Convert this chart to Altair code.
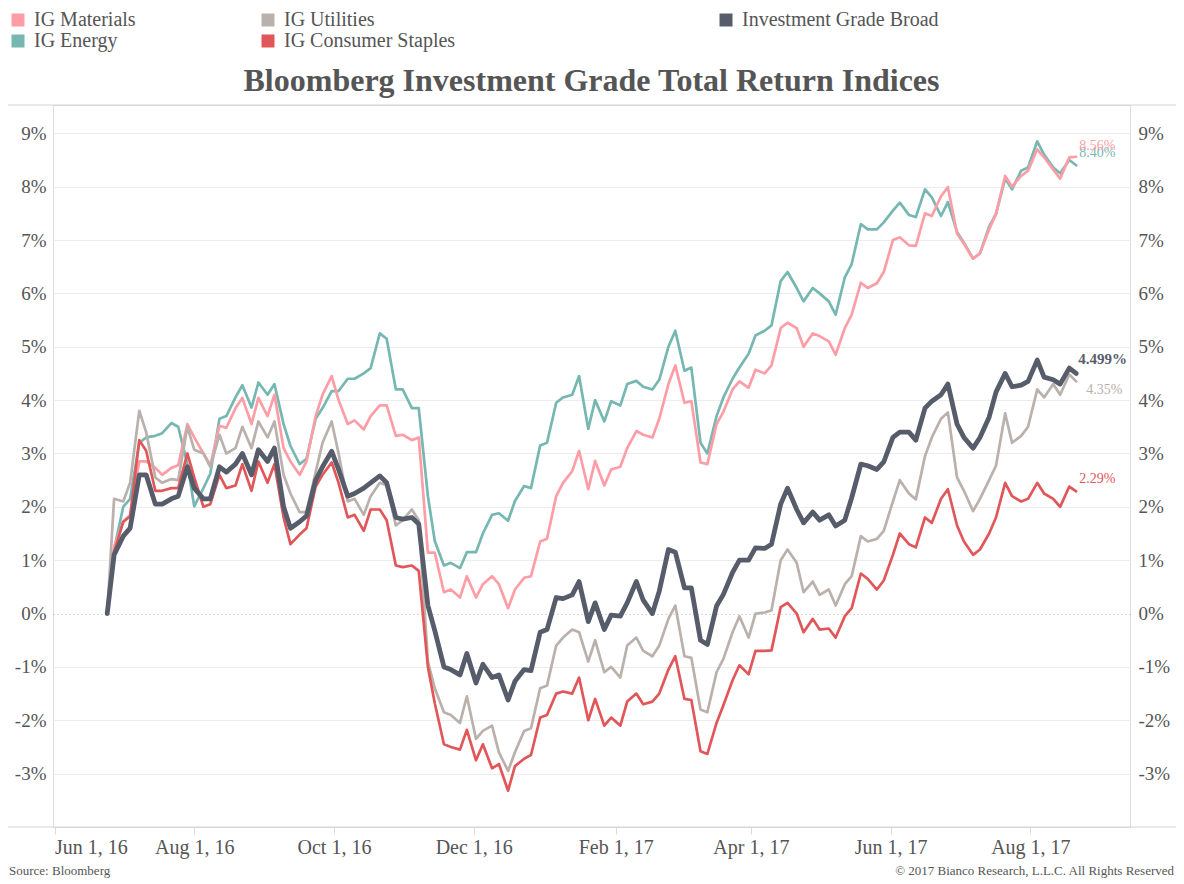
import altair as alt
import pandas as pd

# ---------------- data ----------------
dates = [
    "2016-06-24", "2016-06-27", "2016-07-01", "2016-07-04", "2016-07-08", "2016-07-11", "2016-07-15", "2016-07-18", "2016-07-22", "2016-07-25",
    "2016-07-29", "2016-08-01", "2016-08-05", "2016-08-08", "2016-08-12", "2016-08-15", "2016-08-19", "2016-08-22", "2016-08-26", "2016-08-29",
    "2016-09-02", "2016-09-05", "2016-09-09", "2016-09-12", "2016-09-16", "2016-09-19", "2016-09-23", "2016-09-26", "2016-09-30", "2016-10-03",
    "2016-10-07", "2016-10-10", "2016-10-14", "2016-10-17", "2016-10-21", "2016-10-24", "2016-10-28", "2016-10-31", "2016-11-04", "2016-11-07",
    "2016-11-11", "2016-11-14", "2016-11-18", "2016-11-21", "2016-11-25", "2016-11-28", "2016-12-02", "2016-12-05", "2016-12-09", "2016-12-12",
    "2016-12-16", "2016-12-19", "2016-12-23", "2016-12-26", "2016-12-30", "2017-01-02", "2017-01-06", "2017-01-09", "2017-01-13", "2017-01-16",
    "2017-01-20", "2017-01-23", "2017-01-27", "2017-01-30", "2017-02-03", "2017-02-06", "2017-02-10", "2017-02-13", "2017-02-17", "2017-02-20",
    "2017-02-24", "2017-02-27", "2017-03-03", "2017-03-06", "2017-03-10", "2017-03-13", "2017-03-17", "2017-03-20", "2017-03-24", "2017-03-27",
    "2017-03-31", "2017-04-03", "2017-04-07", "2017-04-10", "2017-04-14", "2017-04-17", "2017-04-21", "2017-04-24", "2017-04-28", "2017-05-01",
    "2017-05-05", "2017-05-08", "2017-05-12", "2017-05-15", "2017-05-19", "2017-05-22", "2017-05-26", "2017-05-29", "2017-06-02", "2017-06-05",
    "2017-06-09", "2017-06-12", "2017-06-16", "2017-06-19", "2017-06-23", "2017-06-26", "2017-06-30", "2017-07-03", "2017-07-07", "2017-07-10",
    "2017-07-14", "2017-07-17", "2017-07-21", "2017-07-24", "2017-07-28", "2017-07-31", "2017-08-04", "2017-08-07", "2017-08-11", "2017-08-14",
    "2017-08-18", "2017-08-21",
]

ig_energy = [
    0.00, 1.20, 2.00, 2.15, 3.20, 3.30, 3.33, 3.38, 3.57, 3.50,
    2.80, 2.01, 2.35, 2.62, 3.65, 3.70, 4.05, 4.28, 3.86, 4.33,
    4.10, 4.30, 3.55, 3.14, 2.80, 2.90, 3.65, 3.85, 4.17, 4.17,
    4.40, 4.40, 4.50, 4.60, 5.25, 5.15, 4.20, 4.20, 3.85, 3.85,
    2.20, 1.36, 0.90, 0.95, 0.85, 1.15, 1.15, 1.50, 1.85, 1.88,
    1.74, 2.11, 2.39, 2.35, 3.15, 3.20, 3.95, 4.05, 4.10, 4.45,
    3.46, 4.00, 3.60, 3.98, 3.90, 4.30, 4.36, 4.25, 4.20, 4.38,
    5.00, 5.30, 4.55, 4.61, 3.20, 3.00, 3.70, 4.05, 4.40, 4.61,
    4.87, 5.21, 5.30, 5.40, 6.23, 6.40, 6.10, 5.85, 6.10, 6.00,
    5.85, 5.60, 6.30, 6.55, 7.30, 7.20, 7.20, 7.33, 7.55, 7.70,
    7.47, 7.43, 7.95, 7.80, 7.45, 7.71, 7.15, 6.95, 6.65, 6.75,
    7.25, 7.49, 8.15, 7.95, 8.30, 8.36, 8.85, 8.60, 8.36, 8.25,
    8.50, 8.40,
]

ig_materials = [
    0.00, 1.25, 1.72, 1.85, 2.85, 2.85, 2.73, 2.60, 2.73, 2.78,
    3.55, 3.30, 3.00, 2.78, 3.52, 3.48, 3.85, 4.04, 3.55, 4.04,
    3.70, 4.10, 3.10, 2.85, 2.60, 2.85, 3.70, 4.10, 4.45, 4.00,
    3.55, 3.62, 3.45, 3.70, 3.90, 3.90, 3.33, 3.35, 3.25, 3.30,
    1.14, 1.14, 0.40, 0.45, 0.30, 0.70, 0.30, 0.55, 0.70, 0.55,
    0.10, 0.45, 0.67, 0.70, 1.35, 1.40, 2.20, 2.45, 2.67, 3.05,
    2.33, 2.86, 2.40, 2.70, 2.75, 3.10, 3.42, 3.35, 3.30, 3.65,
    4.30, 4.65, 3.95, 3.98, 2.83, 2.80, 3.55, 3.78, 4.20, 4.35,
    4.23, 4.57, 4.50, 4.65, 5.35, 5.45, 5.35, 5.00, 5.25, 5.20,
    5.10, 4.85, 5.35, 5.60, 6.20, 6.10, 6.19, 6.40, 7.00, 7.05,
    6.90, 6.89, 7.50, 7.45, 7.82, 7.99, 7.12, 6.93, 6.65, 6.75,
    7.20, 7.49, 8.20, 8.00, 8.20, 8.30, 8.70, 8.55, 8.32, 8.15,
    8.55, 8.56,
]

ig_utilities = [
    0.00, 2.15, 2.10, 2.45, 3.80, 3.40, 2.55, 2.45, 2.52, 2.50,
    3.50, 3.07, 3.00, 2.75, 3.35, 3.00, 3.10, 3.50, 3.10, 3.60,
    3.30, 3.60, 2.60, 2.25, 1.90, 1.90, 2.65, 3.20, 3.60, 3.00,
    2.10, 2.15, 1.85, 2.20, 2.45, 2.40, 1.65, 1.75, 1.95, 1.75,
    -0.90, -1.40, -1.85, -1.90, -2.05, -1.55, -2.35, -2.20, -2.10, -2.60,
    -2.95, -2.60, -2.20, -2.15, -1.40, -1.35, -0.60, -0.45, -0.30, -0.35,
    -0.90, -0.50, -1.10, -1.00, -1.20, -0.60, -0.45, -0.70, -0.80, -0.60,
    -0.10, 0.15, -0.80, -0.83, -1.80, -1.85, -1.10, -0.85, -0.35, -0.05,
    -0.45, 0.00, 0.02, 0.06, 1.00, 1.20, 0.95, 0.40, 0.60, 0.35,
    0.45, 0.15, 0.55, 0.70, 1.45, 1.35, 1.40, 1.55, 2.10, 2.50,
    2.25, 2.14, 2.95, 3.30, 3.65, 3.77, 2.55, 2.30, 1.92, 2.15,
    2.50, 2.77, 3.75, 3.20, 3.33, 3.50, 4.20, 4.05, 4.30, 4.10,
    4.48, 4.35,
]

ig_consumer_staples = [
    0.00, 1.15, 1.72, 1.82, 3.25, 3.05, 2.30, 2.30, 2.35, 2.35,
    3.00, 2.55, 2.00, 2.05, 2.60, 2.35, 2.40, 2.80, 2.30, 2.85,
    2.45, 2.80, 1.80, 1.30, 1.48, 1.60, 2.38, 2.60, 2.83, 2.45,
    1.80, 1.85, 1.55, 1.95, 1.95, 1.75, 0.90, 0.87, 0.90, 0.80,
    -1.00, -1.68, -2.45, -2.50, -2.55, -2.18, -2.75, -2.45, -2.90, -2.82,
    -3.32, -2.86, -2.72, -2.65, -1.95, -1.90, -1.50, -1.46, -1.50, -1.20,
    -2.00, -1.60, -2.10, -1.95, -2.10, -1.65, -1.50, -1.70, -1.65, -1.50,
    -1.05, -0.80, -1.60, -1.62, -2.58, -2.63, -2.05, -1.72, -1.25, -0.97,
    -1.14, -0.70, -0.70, -0.69, 0.12, 0.20, 0.00, -0.35, -0.10, -0.30,
    -0.28, -0.45, -0.05, 0.10, 0.75, 0.65, 0.45, 0.62, 1.10, 1.50,
    1.30, 1.24, 1.80, 1.70, 2.15, 2.33, 1.65, 1.35, 1.10, 1.20,
    1.50, 1.80, 2.45, 2.20, 2.10, 2.15, 2.45, 2.25, 2.15, 2.00,
    2.38, 2.29,
]

ig_broad = [
    0.00, 1.10, 1.45, 1.60, 2.60, 2.60, 2.05, 2.05, 2.15, 2.20,
    2.75, 2.35, 2.15, 2.15, 2.75, 2.65, 2.80, 3.00, 2.60, 3.07,
    2.85, 3.10, 2.00, 1.60, 1.72, 1.83, 2.50, 2.75, 3.04, 2.70,
    2.20, 2.25, 2.35, 2.45, 2.58, 2.45, 1.80, 1.77, 1.80, 1.68,
    0.15, -0.32, -1.00, -1.05, -1.15, -0.75, -1.30, -0.95, -1.20, -1.15,
    -1.62, -1.27, -1.05, -1.07, -0.35, -0.30, 0.30, 0.28, 0.35, 0.60,
    -0.15, 0.20, -0.30, -0.03, -0.05, 0.20, 0.60, 0.25, 0.00, 0.42,
    1.20, 1.15, 0.48, 0.48, -0.50, -0.58, 0.14, 0.36, 0.77, 1.00,
    1.00, 1.23, 1.22, 1.30, 2.05, 2.35, 1.95, 1.70, 1.90, 1.75,
    1.85, 1.64, 1.75, 2.17, 2.80, 2.77, 2.70, 2.84, 3.30, 3.40,
    3.40, 3.25, 3.85, 3.98, 4.10, 4.30, 3.55, 3.30, 3.10, 3.30,
    3.68, 4.15, 4.50, 4.25, 4.28, 4.35, 4.75, 4.43, 4.38, 4.30,
    4.60, 4.50,
]

# drawing order (bottom -> top)
series_names = ["IG Energy", "IG Materials", "IG Utilities", "IG Consumer Staples", "Investment Grade Broad"]
series_values = [ig_energy, ig_materials, ig_utilities, ig_consumer_staples, ig_broad]
series_colors = ["#76b7b2", "#ff9da7", "#bab0ac", "#e15759", "#565c6a"]
end_labels = ["8.40%", "8.56%", "4.35%", "2.29%", "4.499%"]

# legend entries, filled column by column (two rows)
legend_names = ["IG Materials", "IG Energy", "IG Utilities", "IG Consumer Staples"]
legend_colors = ["#ff9da7", "#76b7b2", "#bab0ac", "#e15759"]
broad_name = "Investment Grade Broad"
broad_color = "#565c6a"

y_ticks = [-3, -2, -1, 0, 1, 2, 3, 4, 5, 6, 7, 8, 9]
x_ticks = ["2016-06-01", "2016-08-01", "2016-10-01", "2016-12-01",
           "2017-02-01", "2017-04-01", "2017-06-01", "2017-08-01"]

title_text = "Bloomberg Investment Grade Total Return Indices"
source_text = "Source: Bloomberg"
copyright_text = "\u00a9 2017 Bianco Research, L.L.C. All Rights Reserved"

for v in series_values:
    assert len(v) == len(dates)

# ---------------- styling ----------------
FONT = "Liberation Serif"
TXT = "#555555"
BORDER = "#d4d4d4"
W, H = 1077, 722

# label offsets relative to each series' last point
label_style = {
    "IG Energy": dict(dx=3, dy=-12, size=14, weight="normal"),
    "IG Materials": dict(dx=3, dy=-11, size=14, weight="normal"),
    "IG Utilities": dict(dx=10, dy=9, size=14, weight="normal"),
    "IG Consumer Staples": dict(dx=3, dy=-12, size=14, weight="normal"),
    "Investment Grade Broad": dict(dx=2, dy=-14, size=15, weight="bold"),
}

def dt(s, hours=0):
    t = pd.Timestamp(s)
    return alt.DateTime(year=t.year, month=t.month, date=t.day, hours=hours)

x_scale = alt.Scale(domain=[dt("2016-05-31", 8), dt("2017-09-13", 12)])
y_scale = alt.Scale(domain=[-4.0, 9.53], nice=False, zero=False)

x_axis = alt.Axis(
    values=[dt(s) for s in x_ticks], format="%b %-d, %y", labelFlush=5,
    grid=False, domain=False, ticks=True, tickColor="#dcdcdc", tickSize=7,
    labelPadding=3, labelFont=FONT, labelFontSize=20, labelColor=TXT,
    labelOverlap=False, title=None,
)
y_axis_left = alt.Axis(
    values=y_ticks, labelExpr="datum.value + '%'", orient="left",
    grid=True,
    gridColor={"condition": {"test": "datum.value === 0", "value": "#b0b0b0"}, "value": "#ececec"},
    gridDash={"condition": {"test": "datum.value === 0", "value": [1, 3]}, "value": []},
    domain=False, ticks=False, tickSize=0, labelPadding=7,
    labelFont=FONT, labelFontSize=19, labelColor=TXT, title=None,
)
y_axis_right = alt.Axis(
    values=y_ticks, labelExpr="datum.value + '%'", orient="right",
    grid=False, domain=False, ticks=False, tickSize=0, labelPadding=8,
    labelFont=FONT, labelFontSize=19, labelColor=TXT, title=None,
)

frames = []
for name, vals in zip(series_names, series_values):
    frames.append(pd.DataFrame({"date": pd.to_datetime(dates), "series": name, "value": vals}))
df = pd.concat(frames, ignore_index=True)

X = alt.X("date:T", scale=x_scale, axis=x_axis, title=None)

layers = []
for i, (name, color) in enumerate(zip(series_names, series_colors)):
    if i == 0:
        ax = y_axis_left
    elif name == broad_name:
        ax = y_axis_right
    else:
        ax = None
    width = 4.8 if name == broad_name else 2.7
    layers.append(
        alt.Chart(df[df.series == name]).mark_line(
            strokeWidth=width, strokeJoin="round", strokeCap="round", color=color
        ).encode(x=X, y=alt.Y("value:Q", scale=y_scale, axis=ax, title=None))
    )

# end-of-line value labels
for name, color, lab in zip(series_names, series_colors, end_labels):
    sub = df[df.series == name].tail(1).copy()
    sub["label"] = lab
    st = label_style[name]
    layers.append(
        alt.Chart(sub).mark_text(
            align="left", baseline="middle", dx=st["dx"], dy=st["dy"],
            font=FONT, fontSize=st["size"], fontWeight=st["weight"], color=color,
        ).encode(x=X, y=alt.Y("value:Q", scale=y_scale, axis=None, title=None), text="label:N")
    )

# legends (the legend layers draw no marks themselves)
legend_common = dict(
    title=None, orient="none", padding=0, symbolType="square", symbolSize=169, symbolStrokeWidth=0,
    symbolOpacity=1, labelFont=FONT, labelFontSize=20, labelColor=TXT, labelOffset=6,
    labelLimit=500, rowPadding=1,
)
layers.append(
    alt.Chart(pd.DataFrame({"series": legend_names})).mark_square(size=169, opacity=1).encode(
        fill=alt.Fill("series:N", scale=alt.Scale(domain=legend_names, range=legend_colors),
                      legend=alt.Legend(legendX=-45, legendY=-95, columns=2, columnPadding=122,
                                        **legend_common))
    ).transform_filter("false")
)
layers.append(
    alt.Chart(pd.DataFrame({"series": [broad_name]})).mark_square(size=169, opacity=1, color=broad_color).encode(
        stroke=alt.Stroke("series:N", scale=alt.Scale(domain=[broad_name], range=[broad_color]),
                          legend=alt.Legend(legendX=663, legendY=-95, symbolFillColor=broad_color,
                                            **legend_common))
    ).transform_filter("false")
)

# frame lines that run across the whole width (as in the reference)
one = pd.DataFrame({"k": [0]})
for yy in (0, H):
    layers.append(
        alt.Chart(one).mark_rule(color=BORDER, strokeWidth=1).encode(
            x=alt.value(-45), x2=alt.value(W + 46), y=alt.value(yy)
        )
    )

# title
layers.append(
    alt.Chart(pd.DataFrame({"t": [title_text]})).mark_text(
        align="center", baseline="alphabetic", font=FONT, fontSize=32, fontWeight="bold", color=TXT
    ).encode(x=alt.value(W / 2), y=alt.value(-14), text="t:N")
)

# footer texts
layers.append(
    alt.Chart(pd.DataFrame({"t": [source_text]})).mark_text(
        align="left", baseline="alphabetic", font=FONT, fontSize=13, color=TXT
    ).encode(x=alt.value(-44), y=alt.value(H + 48), text="t:N")
)
layers.append(
    alt.Chart(pd.DataFrame({"t": [copyright_text]})).mark_text(
        align="right", baseline="alphabetic", font=FONT, fontSize=13, color=TXT
    ).encode(x=alt.value(W + 44), y=alt.value(H + 48), text="t:N")
)

chart = alt.layer(*layers).resolve_axis(y="independent").properties(
    width=W,
    height=H,
    autosize=alt.AutoSizeParams(type="none"),
    padding={"left": 45, "top": 97, "right": 46, "bottom": 52},
).configure_view(stroke=BORDER, strokeWidth=1).configure(font=FONT)

chart.save("out.html", embed_options={"renderer": "svg", "actions": False})
